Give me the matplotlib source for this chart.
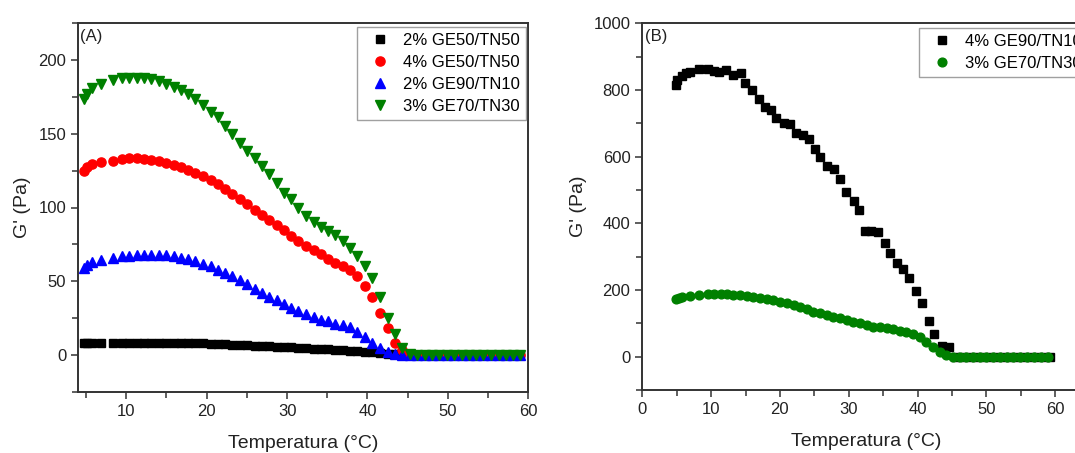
import matplotlib
matplotlib.use("Agg")
import matplotlib.pyplot as plt
from matplotlib.ticker import MultipleLocator

plt.rcParams['font.family'] = ['Liberation Sans', 'DejaVu Sans']

# ---------------- Panel A data ----------------
temp_a = [4.8, 5.1, 5.8, 6.8, 8.3, 9.5, 10.4, 11.3, 12.2, 13.1, 14.1, 15.0, 15.9, 16.8,
          17.7, 18.6, 19.5, 20.5, 21.4, 22.3, 23.2, 24.1, 25.0, 26.0, 26.9, 27.8, 28.7,
          29.6, 30.5, 31.4, 32.4, 33.3, 34.2, 35.1, 36.0, 36.9, 37.8, 38.7, 39.7, 40.6,
          41.6, 42.5, 43.4, 44.3, 45.3, 46.2, 47.1, 48.0, 48.9, 49.9, 50.8, 51.7, 52.6,
          53.5, 54.4, 55.4, 56.3, 57.2, 58.1, 59.0]

ge50_2 = [7.9, 8.0, 8.1, 8.2, 8.3, 8.4, 8.5, 8.5, 8.5, 8.5, 8.5, 8.4, 8.4, 8.3,
          8.2, 8.1, 7.9, 7.7, 7.5, 7.2, 7.0, 6.8, 6.6, 6.3, 6.1, 5.9, 5.6,
          5.4, 5.2, 4.9, 4.6, 4.4, 4.1, 3.8, 3.5, 3.2, 2.9, 2.6, 2.2, 1.8,
          1.3, 0.9, 0.5, 0.2, 0.1, 0.0, 0.0, 0.0, 0.0, 0.0, 0.0, 0.0, 0.0,
          0.0, 0.0, 0.0, 0.0, 0.0, 0.0, 0.0]

ge50_4 = [124.6, 127.3, 129.6, 130.7, 131.8, 132.7, 133.4, 133.4, 133.0, 132.5, 131.8, 130.3, 129.1, 127.3,
          125.5, 123.7, 121.2, 118.3, 115.6, 112.4, 109.3, 105.5, 102.6, 98.5, 94.9, 91.7, 88.4,
          84.5, 80.7, 77.3, 73.9, 71.0, 68.3, 65.4, 62.7, 60.2, 57.9, 53.4, 47.1, 39.4,
          28.2, 18.1, 8.3, 3.4, 0.5, 0.2, 0.1, 0.1, 0.1, 0.1, 0.1, 0.1, 0.1,
          0.1, 0.1, 0.1, 0.1, 0.1, 0.1, 0.1]

ge90_2 = [59.0, 60.9, 63.1, 64.7, 66.1, 66.9, 67.4, 67.8, 68.0, 68.0, 68.0, 67.6, 66.9, 66.1,
          64.9, 63.8, 62.0, 60.2, 57.9, 55.6, 53.4, 50.7, 48.0, 45.1, 42.1, 39.4, 37.2,
          34.5, 32.2, 30.0, 27.7, 25.9, 24.1, 23.2, 21.4, 20.3, 18.7, 15.8, 12.4, 7.9,
          4.5, 2.2, 0.7, 0.2, 0.1, 0.1, 0.1, 0.1, 0.1, 0.1, 0.1, 0.1, 0.1,
          0.1, 0.1, 0.1, 0.1, 0.1, 0.1, 0.1]

ge70_3 = [173.5, 176.9, 181.0, 183.7, 186.4, 187.7, 188.0, 188.0, 187.7, 186.8, 185.9, 184.0, 181.9, 179.6,
          176.9, 173.5, 169.7, 165.0, 161.1, 155.5, 149.9, 143.8, 138.6, 133.2, 127.8, 122.4, 116.5,
          110.0, 105.9, 99.8, 94.0, 90.1, 86.7, 84.0, 81.1, 77.3, 72.8, 66.9, 60.4, 52.5,
          39.4, 25.2, 14.2, 4.5, 0.5, 0.0, 0.0, 0.0, 0.0, 0.0, 0.0, 0.0, 0.0,
          0.0, 0.0, 0.0, 0.0, 0.0, 0.0, 0.0]

labels_a = ["2% GE50/TN50", "4% GE50/TN50", "2% GE90/TN10", "3% GE70/TN30"]

# ---------------- Panel B data ----------------
temp_b_sq = [4.9, 5.1, 5.7, 6.4, 6.9, 8.3, 9.5, 10.4, 11.2, 12.1, 13.2, 14.3, 14.9, 15.9,
             16.9, 17.8, 18.7, 19.5, 20.6, 21.4, 22.3, 23.3, 24.3, 25.1, 25.9, 26.9, 27.9,
             28.8, 29.6, 30.7, 31.5, 32.4, 33.3, 34.3, 35.3, 36.0, 37.0, 37.9, 38.8, 39.8,
             40.6, 41.6, 42.4, 43.5, 44.6, 45.5, 46.5, 47.5, 48.5, 49.5, 50.5, 51.5, 52.5,
             53.5, 54.5, 55.5, 56.5, 57.5, 58.5, 59.2]
ge90_4 = [815, 830, 842, 850, 855, 862, 862, 858, 855, 860, 845, 852, 820, 800,
          773, 750, 740, 715, 700, 698, 670, 665, 652, 622, 600, 572, 562,
          532, 495, 468, 440, 377, 377, 373, 342, 310, 280, 262, 237, 197,
          162, 108, 68, 32, 30, 0, 0, 0, 0, 0, 0, 0, 0,
          0, 0, 0, 0, 0, 0, 0]

temp_b_ci = [4.9, 5.3, 5.8, 6.9, 8.3, 9.5, 10.4, 11.4, 12.3, 13.2, 14.2, 15.2, 16.1, 17.1,
             18.1, 19.0, 20.0, 21.0, 22.0, 22.9, 23.9, 24.8, 25.8, 26.8, 27.7, 28.7, 29.7,
             30.6, 31.6, 32.6, 33.6, 34.5, 35.5, 36.5, 37.4, 38.4, 39.4, 40.3, 41.3, 42.3,
             43.3, 44.2, 45.2, 46.2, 47.1, 48.1, 49.1, 50.0, 51.0, 52.0, 53.0, 53.9, 54.9,
             55.9, 56.9, 57.9, 59.0]
ge70_3b = [172, 176, 180, 182, 184, 187, 187, 187, 187, 185, 184, 182, 179, 175,
           172, 169, 165, 160, 155, 148, 142, 135, 130, 125, 120, 115, 110,
           105, 100, 95, 90, 88, 85, 82, 78, 73, 67, 58, 45, 30,
           15, 5, 0, 0, 0, 0, 0, 0, 0, 0, 0, 0, 0,
           0, 0, 0, 0]

labels_b = ["4% GE90/TN10", "3% GE70/TN30"]

W, H = 1075, 453
fig = plt.figure(figsize=(W / 100, H / 100), dpi=100)

def style_axes(ax):
    for s in ax.spines.values():
        s.set_color('#333333')
        s.set_linewidth(1.4)
    ax.tick_params(which='both', direction='out', colors='#333333', labelcolor='#222222',
                   labelsize=12, width=1.1, top=False, right=False)
    ax.tick_params(which='major', length=5)
    ax.tick_params(which='minor', length=4)

leg_kw = dict(fontsize=12, numpoints=1, frameon=True, fancybox=False, edgecolor='#888888',
              handlelength=2.0, handletextpad=0.4, labelspacing=0.42, borderpad=0.35,
              borderaxespad=0)

# Panel A
axA = fig.add_axes([78 / W, 1 - 392 / H, (528.3 - 78) / W, (392 - 23) / H])
axA.plot(temp_a, ge50_2, ls='none', marker='s', ms=5.6, color='black', label=labels_a[0])
axA.plot(temp_a, ge50_4, ls='none', marker='o', ms=6.6, color='#ff0000', label=labels_a[1])
axA.plot(temp_a, ge90_2, ls='none', marker='^', ms=7.0, color='#0000ff', label=labels_a[2])
axA.plot(temp_a, ge70_3, ls='none', marker='v', ms=7.0, color='#008000', label=labels_a[3])
axA.set_xlim(4, 60)
axA.set_ylim(-25, 225)
axA.xaxis.set_major_locator(MultipleLocator(10))
axA.xaxis.set_minor_locator(MultipleLocator(5))
axA.yaxis.set_major_locator(MultipleLocator(50))
axA.yaxis.set_minor_locator(MultipleLocator(25))
style_axes(axA)
axA.set_xlabel('Temperatura (°C)', fontsize=14, color='#222222', labelpad=12)
axA.set_ylabel("G' (Pa)", fontsize=14, color='#222222', labelpad=5)
axA.text(0.005, 0.985, '(A)', transform=axA.transAxes, ha='left', va='top', fontsize=12, color='#222222')
axA.legend(loc='upper left', bbox_to_anchor=(357 / W, 1 - 27 / H), bbox_transform=fig.transFigure, **leg_kw)

# Panel B
axB = fig.add_axes([642.3 / W, 1 - 390 / H, (1089.5 - 642.3) / W, (390 - 23.3) / H])
axB.plot(temp_b_sq, ge90_4, ls='none', marker='s', ms=5.6, color='black', label=labels_b[0])
axB.plot(temp_b_ci, ge70_3b, ls='none', marker='o', ms=6.3, color='#008000', label=labels_b[1])
axB.set_xlim(0, 65)
axB.set_ylim(-100, 1000)
axB.xaxis.set_major_locator(MultipleLocator(10))
axB.xaxis.set_minor_locator(MultipleLocator(5))
axB.yaxis.set_major_locator(MultipleLocator(200))
axB.yaxis.set_minor_locator(MultipleLocator(100))
style_axes(axB)
axB.set_xlabel('Temperatura (°C)', fontsize=14, color='#222222', labelpad=12)
axB.set_ylabel("G' (Pa)", fontsize=14, color='#222222', labelpad=5)
axB.text(0.005, 0.985, '(B)', transform=axB.transAxes, ha='left', va='top', fontsize=12, color='#222222')
axB.legend(loc='upper left', bbox_to_anchor=(919 / W, 1 - 28 / H), bbox_transform=fig.transFigure, **leg_kw)

fig.savefig('out.png', dpi=100)
